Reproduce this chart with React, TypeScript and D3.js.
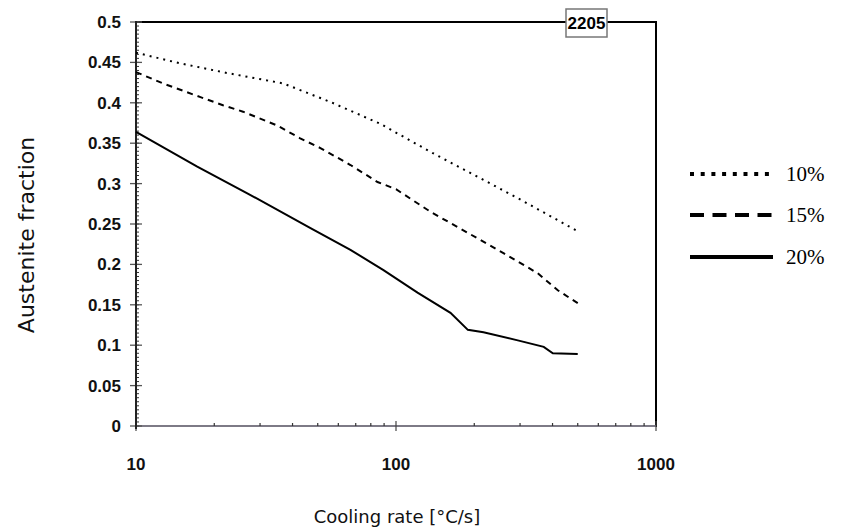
import React from "react";
import * as d3 from "d3";

const W = 862;
const H = 529;

// Cooling rate [°C/s] and austenite fraction for the three curves
const rate10 = [10, 14.7, 22.3, 36.8, 56, 87, 138, 199, 294, 500];
const frac10 = [0.462, 0.449, 0.437, 0.424, 0.401, 0.374, 0.338, 0.311, 0.282, 0.241];

const rate15 = [10, 12.7, 17.7, 21.6, 25.8, 34.9, 42.8, 51.2, 66.8, 84.9, 100, 136, 189, 259, 351, 419, 500];
const frac15 = [0.438, 0.424, 0.407, 0.397, 0.389, 0.372, 0.356, 0.344, 0.323, 0.302, 0.293, 0.265, 0.239, 0.214, 0.189, 0.168, 0.152];

const rate20 = [10, 17.2, 26.8, 46.9, 66.8, 89.5, 121, 162, 189, 217, 294, 370, 401, 500];
const frac20 = [0.364, 0.321, 0.288, 0.245, 0.218, 0.193, 0.165, 0.14, 0.119, 0.116, 0.106, 0.098, 0.09, 0.089];

const seriesNames = ["10%", "15%", "20%"];
const yTicks = [0, 0.05, 0.1, 0.15, 0.2, 0.25, 0.3, 0.35, 0.4, 0.45, 0.5];
const yTickLabels = ["0", "0.05", "0.1", "0.15", "0.2", "0.25", "0.3", "0.35", "0.4", "0.45", "0.5"];
const xTicks = [10, 100, 1000];
const xTickLabels = ["10", "100", "1000"];

const plot = { left: 136, right: 656, top: 22, bottom: 426 };

export default function App() {
  const x = d3.scaleLog().domain([10, 1000]).range([plot.left, plot.right]);
  const y = d3.scaleLinear().domain([0, 0.5]).range([plot.bottom, plot.top]);

  const line = d3
    .line<[number, number]>()
    .x((d) => x(d[0]))
    .y((d) => y(d[1]));

  const zip = (a: number[], b: number[]) => a.map((v, i) => [v, b[i]] as [number, number]);

  const series = [
    { name: seriesNames[0], d: line(zip(rate10, frac10)), dash: "2 5", legendDash: "4 6.7" },
    { name: seriesNames[1], d: line(zip(rate15, frac15)), dash: "6 5", legendDash: "14 8.5" },
    { name: seriesNames[2], d: line(zip(rate20, frac20)), dash: undefined, legendDash: undefined },
  ];

  // minor ticks
  const yMinor = d3.range(0, 0.5001, 0.005);
  const xMinor: number[] = [];
  for (const dec of [10, 100]) for (let k = 2; k <= 9; k++) xMinor.push(dec * k);

  const tickFont = "'Liberation Sans', Arial, Helvetica, sans-serif";
  const titleFont = "'DejaVu Sans', Verdana, sans-serif";

  const legendY = [174, 215, 257];

  return (
    <svg
      width={W}
      height={H}
      style={{ position: "absolute", left: 0, top: 0, background: "#fff" }}
    >
      <rect x={0} y={0} width={W} height={H} fill="#fff" />

      {/* top and right frame */}
      <line x1={plot.left} x2={plot.right} y1={plot.top} y2={plot.top} stroke="#000" strokeWidth={2} />
      <line x1={plot.right} x2={plot.right} y1={plot.top - 1} y2={plot.bottom + 1} stroke="#000" strokeWidth={2} />

      {/* bottom axis */}
      <line x1={plot.left} x2={plot.right} y1={plot.bottom} y2={plot.bottom} stroke="#7d7a86" strokeWidth={2} />
      {xMinor.map((v) => (
        <line key={"xm" + v} x1={x(v)} x2={x(v)} y1={plot.bottom - 3} y2={plot.bottom} stroke="#333" strokeWidth={1.2} />
      ))}
      {xTicks.map((v) => (
        <line key={"xt" + v} x1={x(v)} x2={x(v)} y1={plot.bottom - 5} y2={plot.bottom + 5} stroke="#444" strokeWidth={1.2} />
      ))}

      {/* left axis */}
      {yMinor.map((v, i) => (
        <line key={"ym" + i} x1={plot.left} x2={plot.left + 3} y1={y(v)} y2={y(v)} stroke="#333" strokeWidth={1} />
      ))}
      {yTicks.map((v) => (
        <line key={"yt" + v} x1={plot.left - 6} x2={plot.left + 6} y1={y(v)} y2={y(v)} stroke="#555" strokeWidth={1.3} />
      ))}
      <line x1={plot.left} x2={plot.left} y1={plot.top - 1} y2={plot.bottom + 3} stroke="#222" strokeWidth={2} />

      {/* y tick labels */}
      {yTicks.map((v, i) => (
        <text
          key={"yl" + v}
          x={121}
          y={y(v) + 6}
          textAnchor="end"
          fontFamily={tickFont}
          fontWeight="bold"
          fontSize={17}
          fill="#111"
        >
          {yTickLabels[i]}
        </text>
      ))}

      {/* x tick labels */}
      {xTicks.map((v, i) => (
        <text
          key={"xl" + v}
          x={x(v)}
          y={470}
          textAnchor="middle"
          fontFamily={tickFont}
          fontWeight="bold"
          fontSize={17}
          fill="#111"
        >
          {xTickLabels[i]}
        </text>
      ))}

      {/* axis titles */}
      <text x={397} y={523} textAnchor="middle" fontFamily={titleFont} fontSize={18} fill="#111">
        Cooling rate [°C/s]
      </text>
      <text
        transform={`translate(34, 235) rotate(-90)`}
        textAnchor="middle"
        fontFamily={titleFont}
        fontSize={22}
        fill="#111"
      >
        Austenite fraction
      </text>

      {/* alloy tag */}
      <rect x={566} y={9} width={41} height={28} fill="#fff" stroke="#777" strokeWidth={1.5} />
      <text x={586.5} y={29} textAnchor="middle" fontFamily={tickFont} fontWeight="bold" fontSize={17} fill="#000">
        2205
      </text>

      {/* curves */}
      {series.map((s) => (
        <path
          key={s.name}
          d={s.d || ""}
          fill="none"
          stroke="#000"
          strokeWidth={2}
          strokeDasharray={s.dash}
        />
      ))}

      {/* legend */}
      {series.map((s, i) => (
        <g key={"lg" + s.name}>
          <line
            x1={690}
            x2={773}
            y1={legendY[i]}
            y2={legendY[i]}
            stroke="#000"
            strokeWidth={4}
            strokeDasharray={s.legendDash}
          />
          <text
            x={786}
            y={legendY[i] + 7}
            fontFamily="'Liberation Serif', 'Times New Roman', serif"
            fontSize={21}
            fill="#000"
          >
            {s.name}
          </text>
        </g>
      ))}
    </svg>
  );
}
